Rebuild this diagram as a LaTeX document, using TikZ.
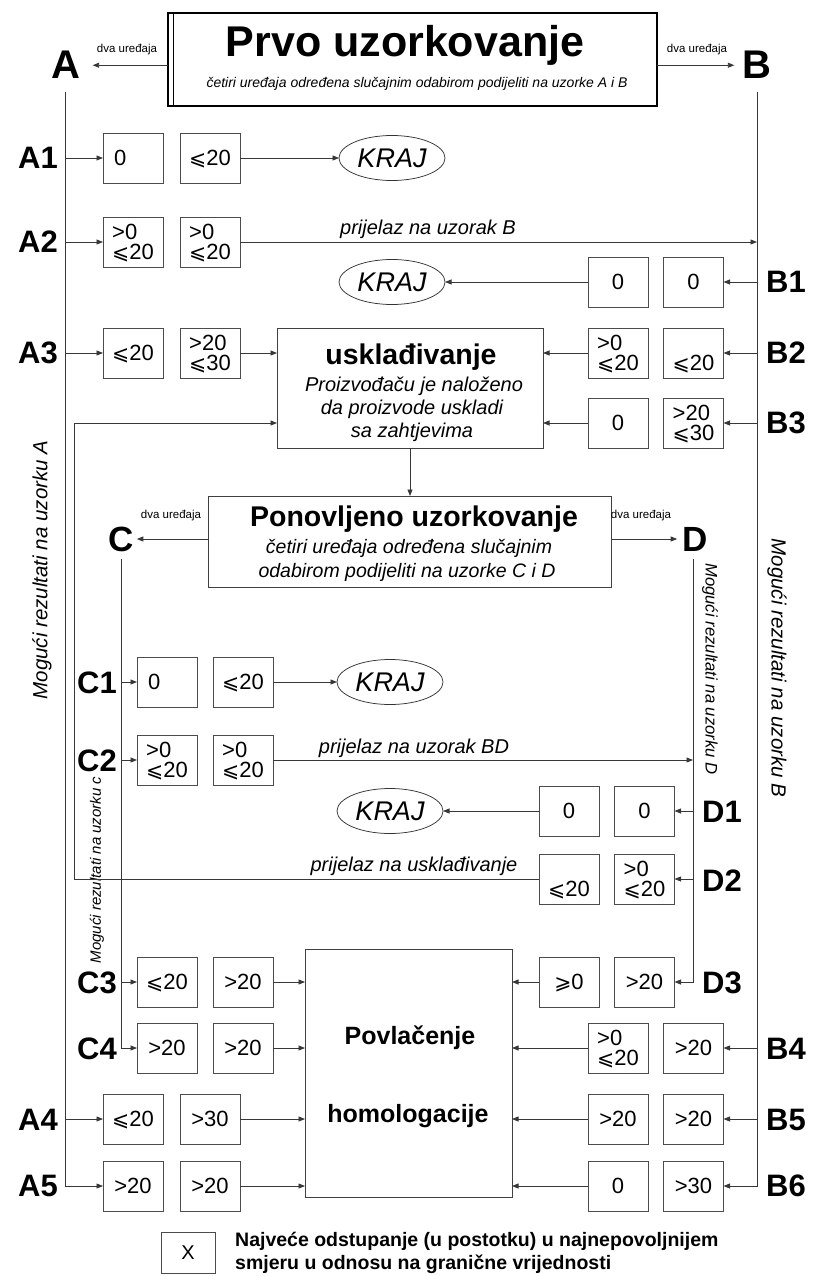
\documentclass[tikz,border=0pt]{standalone}
\usepackage{fontspec}
\setmainfont{Liberation Sans}
\newfontfamily\symfont{DejaVu Sans}
\usetikzlibrary{arrows.meta,shapes.geometric}

\newcommand\fsz[2]{\fontsize{#1}{#2}\selectfont}
% slanted comparison signs, kept out of the line height
\newcommand\lesl{\smash{\symfont\fontsize{20.5}{20}\selectfont ⩽}}
\newcommand\gesl{\smash{\symfont\fontsize{20.5}{20}\selectfont ⩾}}

\tikzset{
  ln/.style={draw=black!78, line width=0.8pt},
  arr/.style={ln, -{Triangle[length=6.5pt,width=5pt]}},
  vbox/.style={draw=black!70, line width=0.75pt, minimum width=60pt, minimum height=50pt,
               inner sep=0pt, outer sep=0pt, align=left, font=\fsz{22}{20.5}},
  zeroleft/.style={text width=38pt},
  bigbox/.style={draw=black!75, line width=0.8pt, inner sep=0pt, outer sep=0pt},
  kraj/.style={ellipse, draw=black!80, line width=0.75pt, minimum width=106pt, minimum height=45pt,
               inner sep=0pt, outer sep=0pt, font=\fsz{27}{27}\itshape},
  bigL/.style={inner sep=0pt, font=\fsz{40}{40}\bfseries},
  midL/.style={inner sep=0pt, font=\fsz{35}{35}\bfseries},
  rowL/.style={inner sep=0pt, font=\fsz{31}{31}\bfseries},
  smallL/.style={inner sep=0pt, font=\fsz{11.5}{12}},
  passL/.style={inner sep=0pt, font=\fsz{20}{20}\itshape},
  vertL/.style={inner sep=0pt, font=\fsz{20.5}{20}\itshape},
}

\begin{document}
\begin{tikzpicture}[x=1pt, y=-1pt]
\useasboundingbox (0,0) rectangle (813,1276);

% ---------- first sampling ----------
\node[draw=black, line width=2pt, minimum width=489pt, minimum height=93pt, inner sep=0pt, outer sep=0pt]
  (prvo) at (412.5,59.5) {};
\draw[line width=0.7pt] ([xshift=5pt]prvo.north west) -- ([xshift=5pt]prvo.south west);
\node[anchor=base, inner sep=0pt, font=\fsz{43}{43}\bfseries] (prvoT) at (405,57) {Prvo uzorkovanje};
\node[anchor=base, inner sep=0pt, font=\fsz{14}{14}\itshape] (prvoS) at (417,88)
  {četiri uređaja određena slučajnim odabirom podijeliti na uzorke A i B};

\node[bigL, anchor=base] (A) at (66,79) {A};
\node[bigL, anchor=base] (B) at (757,79) {B};
\draw[arr] (prvo.west |- A) -- ([xshift=12pt]A.east);
\draw[arr] (prvo.east |- B) -- ([xshift=-8pt]B.west);
\node[smallL, anchor=base] (dvaA) at (127,53) {dva uređaja};
\node[smallL, anchor=base] (dvaB) at (697,53) {dva uređaja};

\coordinate (Atop) at (65,92);
\coordinate (Btop) at (757,92);

\node[vertL, rotate=90] (vA) at (42,570) {Mogući rezultati na uzorku A};
\node[vertL, rotate=-90] (vB) at (777,668) {Mogući rezultati na uzorku B};

% ---------- A1 ----------
\node[rowL, anchor=east] (A1) at (58,158) {A1};
\node[vbox, zeroleft] (a1p) at (133,158) {0};
\node[vbox] (a1q) at (210,158) {\lesl20};
\node[kraj] (k1) at (392,158) {KRAJ};
\draw[arr] (a1p.west -| Atop) -- (a1p.west);
\draw[arr] (a1q) -- (k1);

% ---------- A2 ----------
\node[rowL, anchor=east] (A2) at (58,242) {A2};
\node[vbox] (a2p) at (133,242) {>0\\\lesl20};
\node[vbox] (a2q) at (210,242) {>0\\\lesl20};
\draw[arr] (a2p.west -| Atop) -- (a2p.west);
\draw[arr] (a2q.east) -- (a2q.east -| Btop);
\node[passL] (pB) at (428,229) {prijelaz na uzorak B};

% ---------- B1 ----------
\node[rowL, anchor=west] (B1) at (766,282) {B1};
\node[vbox] (b1p) at (618,282) {0};
\node[vbox] (b1q) at (693.5,282) {0};
\node[kraj] (k2) at (392,282) {KRAJ};
\draw[arr] (b1q.east -| Btop) -- (b1q.east);
\draw[arr] (b1p) -- (k2);

% ---------- compliance ----------
\node[bigbox, minimum width=266pt, minimum height=120pt] (usk) at (410,388) {};
\node[anchor=base, inner sep=0pt, font=\fsz{28.5}{28}\bfseries] (uskT) at (411,364) {usklađivanje};
\node[anchor=base, inner sep=0pt, font=\fsz{20}{20}\itshape] (uskS1) at (414,391) {Proizvođaču je naloženo};
\node[anchor=base, inner sep=0pt, font=\fsz{20}{20}\itshape] (uskS2) at (412,414) {da proizvode uskladi};
\node[anchor=base, inner sep=0pt, font=\fsz{20}{20}\itshape] (uskS3) at (412,437) {sa zahtjevima};

% ---------- A3 / B2 / B3 ----------
\node[rowL, anchor=east] (A3) at (58,353) {A3};
\node[vbox] (a3p) at (133,353) {\lesl20};
\node[vbox] (a3q) at (210,353) {>20\\\lesl30};
\draw[arr] (a3p.west -| Atop) -- (a3p.west);
\draw[arr] (a3q.east) -- (a3q.east -| usk.west);

\node[rowL, anchor=west] (B2) at (766,353) {B2};
\node[vbox] (b2p) at (618,353) {>0\\\lesl20};
\node[vbox] (b2q) at (693.5,353) {\phantom{>0}\\\lesl20};
\draw[arr] (b2q.east -| Btop) -- (b2q.east);
\draw[arr] (b2p.west) -- (b2p.west -| usk.east);

\node[rowL, anchor=west] (B3) at (766,423) {B3};
\node[vbox] (b3p) at (618,423) {0};
\node[vbox] (b3q) at (693.5,423) {>20\\\lesl30};
\draw[arr] (b3q.east -| Btop) -- (b3q.east);
\draw[arr] (b3p.west) -- (b3p.west -| usk.east);

% ---------- repeated sampling ----------
\node[bigbox, minimum width=403pt, minimum height=91pt] (pon) at (410,541.5) {};
\draw[arr] (usk.south) -- (pon.north);
\node[anchor=base, inner sep=0pt, font=\fsz{28.5}{28}\bfseries] (ponT) at (414,526) {Ponovljeno uzorkovanje};
\node[anchor=base, inner sep=0pt, font=\fsz{19.5}{20}\itshape] (ponS1) at (409,553) {četiri uređaja određena slučajnim};
\node[anchor=base, inner sep=0pt, font=\fsz{19.5}{20}\itshape] (ponS2) at (407,577) {odabirom podijeliti na uzorke C i D};

\node[midL] (C) at (121,539) {C};
\node[midL] (D) at (695,539) {D};
\draw[arr] (pon.west |- C) -- ([xshift=3pt]C.east);
\draw[arr] (pon.east |- D) -- ([xshift=-5pt]D.west);
\node[smallL, anchor=base] (dvaC) at (171,518) {dva uređaja};
\node[smallL, anchor=base] (dvaD) at (641,518) {dva uređaja};

\coordinate (Ctop) at (121,559);
\coordinate (Dtop) at (693,559);

\node[rotate=-90, inner sep=0pt, font=\fsz{16.7}{17}\itshape] (vD) at (710,669) {Mogući rezultati na uzorku D};
\node[rotate=90, inner sep=0pt, font=\fsz{15}{15}\itshape] (vC) at (97,870) {Mogući rezultati na uzorku c};

% ---------- C1 ----------
\node[rowL, anchor=east] (C1) at (117,683) {C1};
\node[vbox, zeroleft] (c1p) at (167,682) {0};
\node[vbox] (c1q) at (243,682) {\lesl20};
\node[kraj] (k3) at (390,682) {KRAJ};
\draw[arr] (c1p.west -| Ctop) -- (c1p.west);
\draw[arr] (c1q) -- (k3);

% ---------- C2 ----------
\node[rowL, anchor=east] (C2) at (117,761) {C2};
\node[vbox] (c2p) at (167,760) {>0\\\lesl20};
\node[vbox] (c2q) at (243,760) {>0\\\lesl20};
\draw[arr] (c2p.west -| Ctop) -- (c2p.west);
\draw[arr] (c2q.east) -- (c2q.east -| Dtop);
\node[passL] (pBD) at (414,748) {prijelaz na uzorak BD};

% ---------- D1 ----------
\node[rowL, anchor=west] (D1) at (702,812) {D1};
\node[vbox] (d1p) at (569,811) {0};
\node[vbox] (d1q) at (644.5,811) {0};
\node[kraj] (k4) at (390,811) {KRAJ};
\draw[arr] (d1q.east -| Dtop) -- (d1q.east);
\draw[arr] (d1p) -- (k4);

% ---------- D2 and return to compliance ----------
\node[rowL, anchor=west] (D2) at (702,881) {D2};
\node[vbox] (d2p) at (569,879) {\phantom{>0}\\\lesl20};
\node[vbox] (d2q) at (644.5,879) {>0\\\lesl20};
\draw[arr] (d2q.east -| Dtop) -- (d2q.east);
\coordinate (loop) at (74,423);
\draw[arr] (d2p.west) -| (loop) -- (loop -| usk.west);
\node[passL] (pU) at (414,866) {prijelaz na usklađivanje};

% ---------- withdrawal ----------
\node[bigbox, minimum width=207pt, minimum height=248pt] (povl) at (408.5,1073) {};
\node[anchor=base, inner sep=0pt, font=\fsz{25}{25}\bfseries] (povT1) at (410,1044) {Povlačenje};
\node[anchor=base, inner sep=0pt, font=\fsz{25}{25}\bfseries] (povT2) at (408,1122) {homologacije};

% ---------- C3 / D3 ----------
\node[rowL, anchor=east] (C3) at (117,983) {C3};
\node[vbox] (c3p) at (167,982) {\lesl20};
\node[vbox] (c3q) at (243,982) {>20};
\draw[arr] (c3p.west -| Ctop) -- (c3p.west);
\draw[arr] (c3q.east) -- (c3q.east -| povl.west);

\node[rowL, anchor=west] (D3) at (702,983) {D3};
\node[vbox] (d3p) at (569,982) {\gesl0};
\node[vbox] (d3q) at (644.5,982) {>20};
\draw[arr] (Dtop) |- (d3q.east);
\draw[arr] (d3p.west) -- (d3p.west -| povl.east);

% ---------- C4 / B4 ----------
\node[rowL, anchor=east] (C4) at (117,1049) {C4};
\node[vbox] (c4p) at (167,1048) {>20};
\node[vbox] (c4q) at (243,1048) {>20};
\draw[arr] (Ctop) |- (c4p.west);
\draw[arr] (c4q.east) -- (c4q.east -| povl.west);

\node[rowL, anchor=west] (B4) at (766,1049) {B4};
\node[vbox] (b4p) at (618,1048) {>0\\\lesl20};
\node[vbox] (b4q) at (693.5,1048) {>20};
\draw[arr] (b4q.east -| Btop) -- (b4q.east);
\draw[arr] (b4p.west) -- (b4p.west -| povl.east);

% ---------- A4 / B5 ----------
\node[rowL, anchor=east] (A4) at (58,1120) {A4};
\node[vbox] (a4p) at (133,1119) {\lesl20};
\node[vbox] (a4q) at (210,1119) {>30};
\draw[arr] (a4p.west -| Atop) -- (a4p.west);
\draw[arr] (a4q.east) -- (a4q.east -| povl.west);

\node[rowL, anchor=west] (B5) at (766,1120) {B5};
\node[vbox] (b5p) at (618,1119) {>20};
\node[vbox] (b5q) at (693.5,1119) {>20};
\draw[arr] (b5q.east -| Btop) -- (b5q.east);
\draw[arr] (b5p.west) -- (b5p.west -| povl.east);

% ---------- A5 / B6 ----------
\node[rowL, anchor=east] (A5) at (58,1186) {A5};
\node[vbox] (a5p) at (133,1186) {>20};
\node[vbox] (a5q) at (210,1186) {>20};
\draw[arr] (Atop) |- (a5p.west);
\draw[arr] (a5q.east) -- (a5q.east -| povl.west);

\node[rowL, anchor=west] (B6) at (766,1186) {B6};
\node[vbox] (b6p) at (618,1186) {0};
\node[vbox] (b6q) at (693.5,1186) {>30};
\draw[arr] (Btop) |- (b6q.east);
\draw[arr] (b6p.west) -- (b6p.west -| povl.east);

% ---------- legend ----------
\node[draw=black!70, line width=0.75pt, minimum width=54pt, minimum height=41pt, inner sep=0pt,
      font=\fsz{20}{20}] (leg) at (188,1252.5) {X};
\node[anchor=west, align=left, inner sep=0pt, font=\fsz{19.5}{23.5}\bfseries] (legT) at (235,1253)
  {Najveće odstupanje (u postotku) u najnepovoljnijem\\smjeru u odnosu na granične vrijednosti};
\end{tikzpicture}
\end{document}
